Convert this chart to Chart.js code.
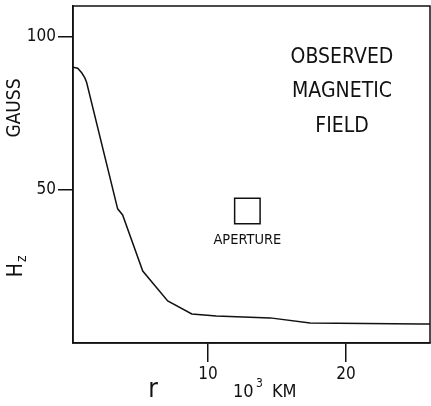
<!DOCTYPE html>
<html lang="en">
<head>
  <meta charset="UTF-8">
  <title>Observed Magnetic Field</title>
  <script src="https://cdn.jsdelivr.net/npm/chart.js"></script>
  <style>
    html, body { margin: 0; padding: 0; background: #fff; }
    #wrap { width: 431px; height: 406px; }
  </style>
</head>
<body>
<div id="wrap"><canvas id="fieldChart"></canvas></div>

<script>
// radius r (10^3 km) and observed Hz (gauss)
const rValues  = [0.2, 0.54, 0.83, 1.05, 1.19, 3.44, 3.8, 5.26, 7.07, 8.82, 10.6, 14.5, 17.4, 25.4, 26.1];
const hzValues = [90, 89.7, 88.2, 86.6, 85.0, 43.8, 41.8, 23.5, 13.7, 9.5, 8.8, 8.2, 6.5, 6.2, 6.2];
const xTicks = [10, 20];
const yTicks = [50, 100];
const aperture = { r: 12.85, hz: 43.1 };

const FONT = "'DejaVu Sans Condensed', 'Liberation Sans Narrow', 'DejaVu Sans', sans-serif";
const INK = '#111';

const labelsPlugin = {
  id: 'labels',
  afterDraw(chart) {
    const { ctx, chartArea: a, scales: { x } } = chart;
    ctx.save();
    // frame
    ctx.strokeStyle = INK;
    ctx.lineWidth = 1.5;
    ctx.strokeRect(a.left, a.top, a.right - a.left, a.bottom - a.top);

    ctx.fillStyle = INK;
    ctx.textAlign = 'center';
    ctx.textBaseline = 'middle';

    // title block
    ctx.font = '21px ' + FONT;
    ctx.fillText('OBSERVED', 342, 58);
    ctx.fillText('MAGNETIC', 342, 92);
    ctx.fillText('FIELD', 342, 127);

    // aperture caption under the square
    ctx.font = '14.5px ' + FONT;
    ctx.fillText('APERTURE', x.getPixelForValue(aperture.r), 240);

    // y axis titles (rotated)
    ctx.save();
    ctx.translate(15, 108);
    ctx.rotate(-Math.PI / 2);
    ctx.font = '19px ' + FONT;
    ctx.fillText('GAUSS', 0, 0);
    ctx.restore();

    ctx.save();
    ctx.translate(17, 266);
    ctx.rotate(-Math.PI / 2);
    ctx.font = '21px ' + FONT;
    ctx.textAlign = 'right';
    ctx.fillText('H', 3, 0);
    ctx.font = '14px ' + FONT;
    ctx.textAlign = 'left';
    ctx.fillText('z', 4, 5);
    ctx.restore();

    // x axis title
    ctx.font = '26px ' + FONT;
    ctx.fillText('r', 153, 390);
    ctx.font = '18px ' + FONT;
    ctx.textAlign = 'left';
    ctx.fillText('10', 233, 392);
    ctx.font = '12px ' + FONT;
    ctx.fillText('3', 256, 384);
    ctx.font = '18px ' + FONT;
    ctx.fillText('KM', 272, 392);
    ctx.restore();
  }
};

function noPad(s) {
  s.paddingLeft = 0; s.paddingRight = 0; s.paddingTop = 0; s.paddingBottom = 0;
}

new Chart(document.getElementById('fieldChart'), {
  type: 'scatter',
  data: {
    datasets: [
      {
        label: 'Hz',
        data: rValues.map((r, i) => ({ x: r, y: hzValues[i] })),
        showLine: true,
        borderColor: INK,
        borderWidth: 1.5,
        pointRadius: 0,
        tension: 0
      },
      {
        label: 'aperture',
        data: [{ x: aperture.r, y: aperture.hz }],
        pointStyle: 'rect',
        pointRadius: 18,
        pointBorderColor: INK,
        pointBorderWidth: 1.5,
        pointBackgroundColor: 'rgba(0,0,0,0)'
      }
    ]
  },
  plugins: [labelsPlugin],
  options: {
    responsive: true,
    maintainAspectRatio: false,
    animation: false,
    layout: { autoPadding: false, padding: { top: 6, right: 1, left: 0, bottom: 0 } },
    plugins: { legend: { display: false }, tooltip: { enabled: false } },
    scales: {
      x: {
        type: 'linear',
        min: 0.2,
        max: 26.1,
        afterBuildTicks: s => { s.ticks = xTicks.map(v => ({ value: v })); },
        afterFit: s => { s.height = 63; noPad(s); },
        border: { display: true, color: INK, width: 1.5 },
        grid: { drawOnChartArea: false, drawTicks: true, tickLength: 19, color: INK, lineWidth: 1.5 },
        ticks: { color: INK, font: { family: FONT, size: 17 }, padding: 2, maxRotation: 0 }
      },
      y: {
        type: 'linear',
        min: 0,
        max: 110,
        afterBuildTicks: s => { s.ticks = yTicks.map(v => ({ value: v })); },
        afterFit: s => { s.width = 73; noPad(s); },
        border: { display: true, color: INK, width: 1.5 },
        grid: { drawOnChartArea: false, drawTicks: true, tickLength: 15, color: INK, lineWidth: 1.5 },
        ticks: { color: INK, font: { family: FONT, size: 17 }, padding: 2 }
      }
    }
  }
});
</script>
</body>
</html>
